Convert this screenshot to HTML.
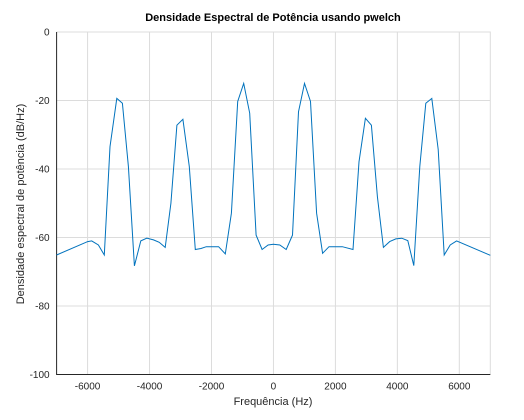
<!DOCTYPE html>
<html><head><meta charset="utf-8"><style>
body{margin:0;background:#fff;}
svg{display:block;font-family:"Liberation Sans",sans-serif;}
</style></head><body>
<svg id="chart" width="524" height="420" viewBox="0 0 524 420">
<rect x="0" y="0" width="524" height="420" fill="#fff"/>
<text x="273" y="21" text-anchor="middle" font-size="11" font-weight="bold" fill="#000">Densidade Espectral de Potência usando pwelch</text>
<g id="grid"></g>
<g id="axes"></g>
<polyline id="series" fill="none" stroke="#0072bd" stroke-width="1"/>
<text x="273" y="405" text-anchor="middle" font-size="11" fill="#262626">Frequência (Hz)</text>
<text transform="translate(24,204) rotate(-90)" text-anchor="middle" font-size="11" fill="#262626">Densidade espectral de potência (dB/Hz)</text>
</svg>
<script>
const freqs=[-7000,-5997,-5868,-5652,-5459,-5275,-5058,-4876,-4682,-4488,-4283,-4088,-3873,-3689,-3495,-3311,-3117,-2923,-2718,-2524,-2340,-2168,-1970,-1770,-1553,-1359,-1154,-961,-767,-560,-366,-172,0,205,410,615,809,1003,1197,1392,1586,1793,2000,2223,2567,2761,2968,3162,3356,3550,3754,3948,4142,4337,4531,4725,4919,5113,5317,5511,5706,5912,7000];
const psd=[-65.1,-61.2,-61.0,-62.2,-65.1,-33.5,-19.4,-20.8,-39.3,-68.3,-61.0,-60.2,-60.7,-61.4,-62.9,-50.0,-27.2,-25.5,-39.3,-63.5,-63.2,-62.7,-62.7,-62.7,-64.8,-52.9,-20.3,-15.0,-23.7,-59.3,-63.5,-62.2,-62.0,-62.2,-63.5,-59.3,-23.3,-15.0,-20.3,-52.9,-64.6,-62.7,-62.7,-62.7,-63.5,-37.9,-25.2,-27.2,-48.1,-62.9,-61.2,-60.4,-60.2,-60.9,-68.2,-39.3,-20.8,-19.4,-34.3,-65.1,-62.2,-61.0,-65.2];
const xTicks=[-6000,-4000,-2000,0,2000,4000,6000];
const yTicks=[0,-20,-40,-60,-80,-100];
const L=56.6,R=490.3,T=32,B=374.5;
const xs=v=>L+(v+7000)/14000*(R-L);
const ys=v=>T+(0-v)/100*(B-T);
const NS='http://www.w3.org/2000/svg';
const grid=document.getElementById('grid'),axes=document.getElementById('axes');
function mk(tag,attrs,parent){const e=document.createElementNS(NS,tag);for(const k in attrs)e.setAttribute(k,attrs[k]);parent.appendChild(e);return e;}
xTicks.forEach(v=>{
  const g=mk('line',{x1:xs(v),x2:xs(v),y1:T,y2:B,stroke:'#dcdcdc','stroke-width':1},grid);
  
  
  const t=mk('text',{x:xs(v),y:B+15,'text-anchor':'middle','font-size':10,fill:'#262626'},axes);
  t.textContent=v;
  
  
});
yTicks.forEach(v=>{
  const g=mk('line',{x1:L,x2:R,y1:ys(v),y2:ys(v),stroke:'#dcdcdc','stroke-width':1},grid);
  
  
  const t=mk('text',{x:L-7,y:ys(v)+3.5,'text-anchor':'end','font-size':10,fill:'#262626'},axes);
  t.textContent=v;
  
  
});
const lb=mk('path',{d:`M${L},${T} V${B} H${R}`,fill:'none',stroke:'#262626','stroke-width':1},axes);


const tr=mk('path',{d:`M${L},${T} H${R} V${B}`,fill:'none',stroke:'#dcdcdc','stroke-width':1},grid);


document.getElementById('series').setAttribute('points',freqs.map((f,i)=>xs(f).toFixed(1)+','+ys(psd[i]).toFixed(1)).join(' '));
</script>
</body></html>
